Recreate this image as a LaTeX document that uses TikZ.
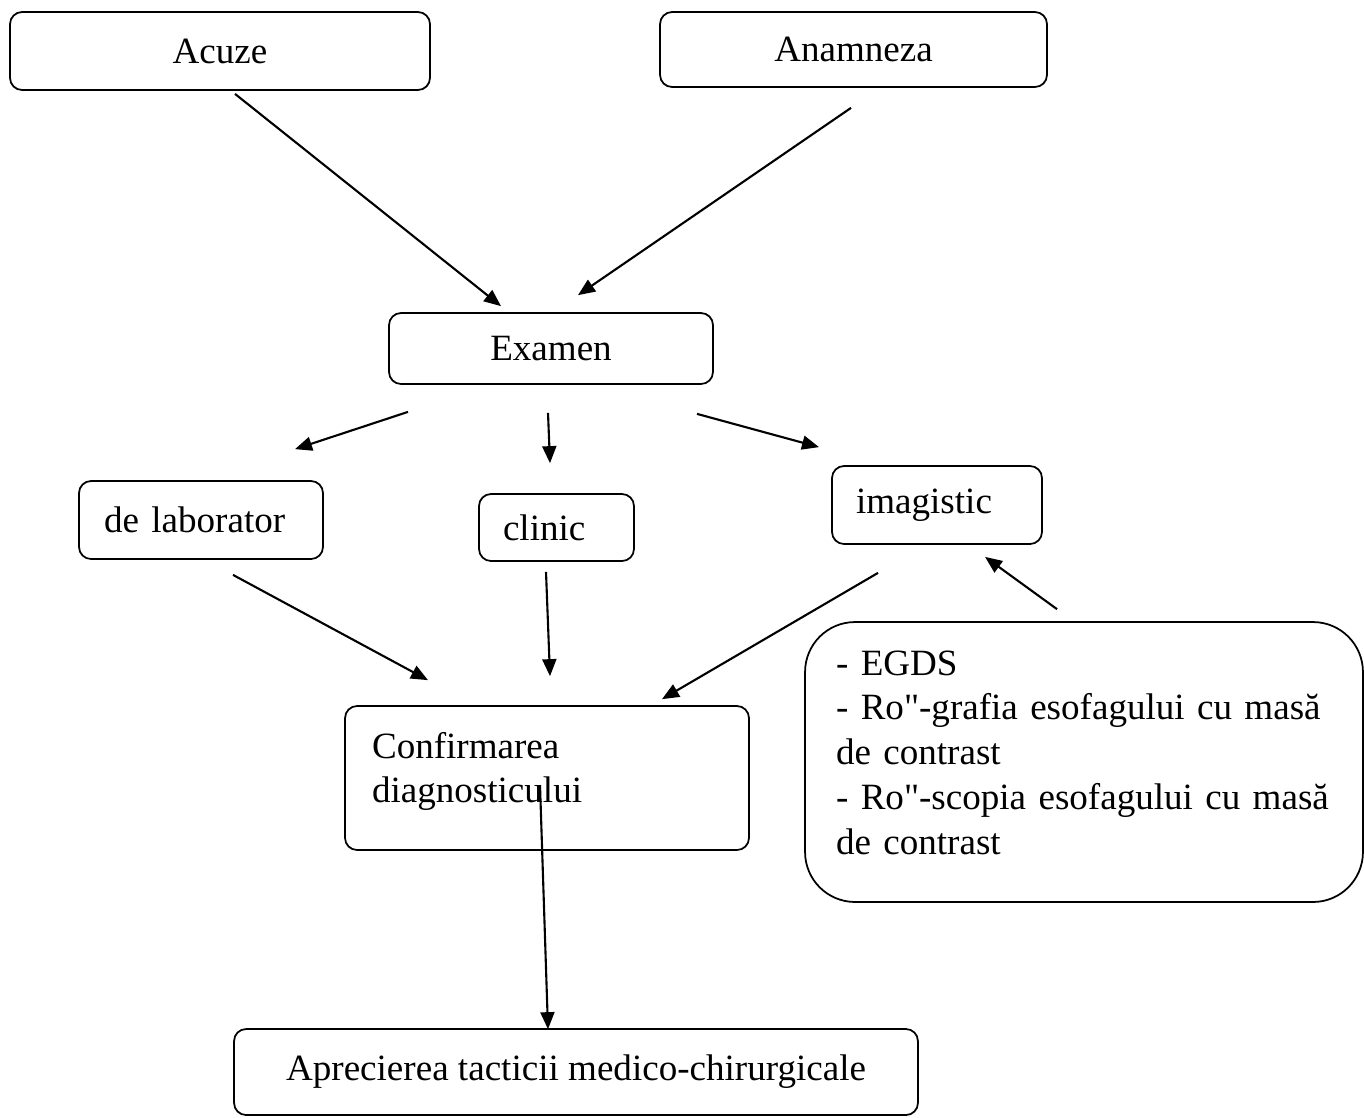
\documentclass[tikz,border=0pt]{standalone}
\usepackage{fontspec}
\setmainfont{Liberation Serif}
\usetikzlibrary{arrows.meta,calc}

\begin{document}
\begin{tikzpicture}[x=0.02cm, y=-0.02cm, >={Triangle[length=3.4mm,width=2.8mm]},
box/.style={draw, line width=1pt, rounded corners=0.24cm, font=\fontsize{21.1pt}{25.5pt}\selectfont},
leftbox/.style={box, align=left},
flow/.style={->, line width=1.2pt}]
    \useasboundingbox (0,0) rectangle (1364,1117);
    % Nodes
    \node (acuze) at (220,51) [box, minimum width=8.4cm, minimum height=1.56cm] {Acuze};
    \node (anamneza) at (853.5,49.5) [box, minimum width=7.74cm, minimum height=1.5cm] {Anamneza};
    \node (examen) at (551,348.5) [box, minimum width=6.48cm, minimum height=1.42cm] {Examen};
    \node (lab) at (201,520) [leftbox, inner xsep=0.5cm, text width=3.88cm, minimum height=1.56cm] {de laborator};
    \node (clinic) at (556.5,527.5) [leftbox, inner xsep=0.48cm, text width=2.14cm, minimum height=1.34cm] {clinic};
    \node (imagistic) at (937,505) [leftbox, inner xsep=0.48cm, text width=3.24cm, minimum height=1.56cm] {imagistic};
    \node (confirm) at (547,778) [leftbox, inner xsep=0.54cm, text width=7cm, minimum height=2.88cm] {Confirmarea\\diagnosticului\rule[-0.42cm]{0pt}{0pt}};
    \node (metode) at (1084,762) [leftbox, rounded corners=1cm, inner xsep=0.62cm, text width=9.92cm, minimum height=5.6cm]
        {- EGDS\\- Ro\textquotedbl-grafia esofagului cu masă\\de contrast\\- Ro\textquotedbl-scopia esofagului cu masă\\de contrast\rule[-0.38cm]{0pt}{0pt}};
    \node (tactica) at (576,1072) [box, minimum width=13.68cm, minimum height=1.72cm] {Aprecierea tacticii medico-chirurgicale};

    % Arrows
    \draw[flow] ($(acuze.south)+(15,3)$) -- ($(examen.north)+(-50,-6)$);
    \draw[flow] ($(anamneza.south)+(-2.5,20)$) -- ($(examen.north)+(27,-17)$);
    \draw[flow] ($(examen.south)+(-143,27)$) -- ($(lab.north)+(94,-31)$);
    \draw[flow] ($(examen.south)+(-3,28)$) -- ($(clinic.north)+(-6.5,-30)$);
    \draw[flow] ($(examen.south)+(146,29)$) -- ($(imagistic.north)+(-118,-18)$);
    \draw[flow] ($(lab.south)+(32,15)$) -- ($(confirm.north)+(-119,-25)$);
    \draw[flow] ($(clinic.south)+(-10.5,10)$) -- ($(confirm.north)+(3,-29)$);
    \draw[flow] ($(imagistic.south)+(-59,28)$) -- ($(confirm.north)+(115,-6)$);
    \draw[flow] ($(metode.north)+(-27,-12)$) -- ($(imagistic.south)+(48,12)$);
    \draw[flow] ($(confirm.center)+(-7,7)$) -- ($(tactica.north)+(-28,1)$);

\end{tikzpicture}
\end{document}
